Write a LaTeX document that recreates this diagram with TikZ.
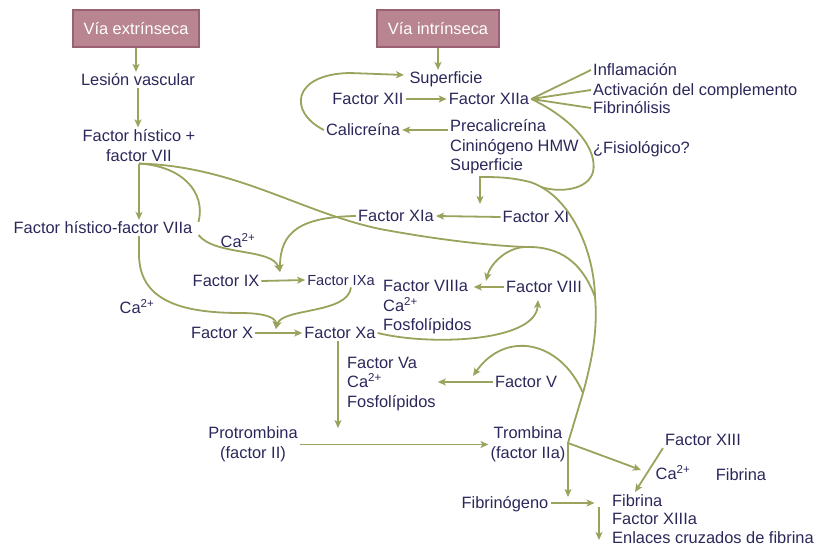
\documentclass[tikz,border=0pt]{standalone}
\usepackage{fontspec}
\setmainfont{Liberation Sans}
\usetikzlibrary{arrows.meta,calc}
\definecolor{txtc}{HTML}{2A275A}
\definecolor{arrc}{HTML}{9AA25C}
\definecolor{boxf}{HTML}{B88590}
\definecolor{boxd}{HTML}{9A6175}
\begin{document}
\begin{tikzpicture}[x=1pt,y=-1pt,
  lbl/.style={text=txtc,font=\fontsize{16.4}{19.5}\selectfont,inner sep=2pt},
  one/.style={lbl,text height=11.8pt,text depth=0pt},
  blk/.style={lbl,align=left,anchor=west},
  pbox/.style={fill=boxf,draw=boxd,line width=1.2pt,text=white,font=\fontsize{16.4}{19.5}\selectfont,minimum width=126pt,minimum height=37pt,inner sep=0pt},
  link/.style={draw=arrc,line width=1.8pt},
  arr/.style={link,-{Stealth[length=8pt,width=7pt,inset=2pt]}},
]
\useasboundingbox (0,0) rectangle (823,548);

% ---- nodes ----
\node[pbox] (ext) at (136,28.5) {Vía extrínseca};
\node[pbox,minimum width=122pt] (int) at (438,28.5) {Vía intrínseca};
\node[one] (les) at (138,80) {Lesión vascular};
\node[lbl,align=center] (fh) at (139,145.5) {Factor hístico +\\factor VII};
\node[one] (fhv) at (103,228) {Factor hístico-factor VIIa};
\node[one] (ca1) at (238,242) {Ca\textsuperscript{2+}};
\node[one] (ca2) at (137,308) {Ca\textsuperscript{2+}};
\node[one] (f9) at (226,281) {Factor IX};
\node[one,font=\fontsize{14.6}{17}\selectfont,text height=10.5pt] (f9a) at (341,280) {Factor IXa};
\node[one] (f10) at (222,333) {Factor X};
\node[one] (f10a) at (340,333) {Factor Xa};
\node[blk] (f8a) at (381,307.5) {Factor VIIIa\\Ca\textsuperscript{2+}\\Fosfolípidos};
\node[one] (f8) at (544,287) {Factor VIII};
\node[blk] (f5a) at (345,384) {Factor Va\\Ca\textsuperscript{2+}\\Fosfolípidos};
\node[one] (f5) at (526,382) {Factor V};
\node[lbl,align=center] (pro) at (253,444.5) {Protrombina\\(factor II)};
\node[lbl,align=center] (tro) at (528,444.5) {Trombina\\(factor IIa)};
\node[one] (f13) at (703,440) {Factor XIII};
\node[one] (ca3) at (673,474) {Ca\textsuperscript{2+}};
\node[one] (fib1) at (741,475) {Fibrina};
\node[one] (fibg) at (505,503) {Fibrinógeno};
\node[blk,font=\fontsize{16.4}{18.5}\selectfont,inner sep=1pt] (fibb) at (611,519) {Fibrina\\Factor XIIIa\\Enlaces cruzados de fibrina};
\node[one] (sup1) at (446,78) {Superficie};
\node[one] (f12) at (368,99) {Factor XII};
\node[one] (f12a) at (489,99) {Factor XIIa};
\node[one] (cal) at (363,130) {Calicreína};
\node[blk] (prec) at (448,147) {Precalicreína\\Cininógeno HMW\\Superficie};
\node[one,anchor=west] (infl) at (591,70) {Inflamación};
\node[one,anchor=west] (act) at (591,90) {Activación del complemento};
\node[one,anchor=west] (fibl) at (591,108) {Fibrinólisis};
\node[one,anchor=west] (fis) at (591,148) {¿Fisiológico?};
\node[one] (f11a) at (396,216) {Factor XIa};
\node[one] (f11) at (536,217) {Factor XI};

% ---- junctions and free ends ----
\coordinate (j9) at (280,272);
\coordinate (j10) at (276,329);
\coordinate (tj) at (568,443);
\coordinate (jV) at (583,393);
\coordinate (jVIII) at (595,297);
\coordinate (jXI) at (480,177);
\coordinate (jm) at (525,247);
\coordinate (t8) at (486,281);
\coordinate (t5) at (473,376);
\coordinate (tsup) at (404,75);
\coordinate (tfib) at (568,497);
\coordinate (tca) at (641,470);
\coordinate (t13) at (635,492);
\coordinate (fa) at (599,507);
\coordinate (fb) at (599,540);
\coordinate (j12) at (541,187);

% ---- connectors: extrinsic ----
\draw[arr] (ext.south) -- (ext.south |- les.north);
\draw[arr] (les.south) -- (les.south |- fh.north);
\draw[arr] (fh.south) -- (fh.south |- fhv.north);
\draw[link] (fh.south) .. controls (182,166) and (206,192) .. ($(fhv.east)+(4,-6)$);
\draw[link] (fh.south) .. controls (235,166) and (300,212) .. (380,229)
            .. controls (450,242) and (500,246) .. (jm);
\draw[arr] ($(fhv.east)+(4,7)$) .. controls (215,256) and (272,248) .. (j9);
\draw[arr] (f11a.west) .. controls (300,217) and (280,232) .. (j9);
\draw[arr] (f9.east) -- (f9a.west);
\draw[arr] (fhv.south -| fh.south) -- ++(0,18) .. controls (139,300) and (180,313) .. (240,313)
            .. controls (266,313) and (276,318) .. (j10);
\draw[arr] ($(f9a.south)+(10,0)$) .. controls (348,314) and (282,308) .. (j10);
\draw[arr] (f10.east) -- (f10a.west);
\draw[arr] (f10a.east) .. controls (430,346) and (536,342) .. ($(f8.south)+(-6,5)$);
\draw[arr] (f8.west) -- (f8.west -| f8a.east);
\draw[arr] ($(f10a.south)+(-2,0)$) -- ++(0,87);
\draw[arr] (f5.west) -- (f5.west -| f5a.east);
\draw[arr] (pro.east) -- (pro.east -| tro.west);

% ---- thrombin feedback ----
\draw[arr] (tj) -- (jV) .. controls (592,360) and (598,330) .. (jVIII)
           .. controls (594,250) and (570,195) .. (530,182)
           .. controls (510,177) and (495,177) .. (jXI) -- ($(jXI)+(0,27)$);
\draw[arr] (jVIII) .. controls (582,262) and (560,246) .. (jm)
           .. controls (505,248) and (490,265) .. (t8);
\draw[arr] (jV) .. controls (560,340) and (505,330) .. (t5);

% ---- intrinsic ----
\draw[arr] (int.south) -- (int.south |- sup1.north);
\draw[arr] (f12.east) -- (f12a.west);
\draw[arr] (cal.east -| prec.west) -- (cal.east);
\draw[arr] (cal.west) .. controls (288,112) and (292,74) .. (350,73) -- (tsup);
\draw[link] (f12a.east) -- (infl.west);
\draw[link] (f12a.east) -- (act.west);
\draw[link] (f12a.east) -- (fibl.west);
\draw[link] (f12a.east) .. controls (575,120) and (598,150) .. (593,172)
            .. controls (588,190) and (560,193) .. (j12);
\draw[arr] (f11.west) -- (f11a.east);

% ---- fibrin ----
\draw[arr] (tj) -- (tfib);
\draw[arr] (tj) -- (tca);
\draw[arr] (f13.south west) -- (t13);
\draw[arr] (fibg.east) -- ++(44,0);
\draw[arr] (fa) -- (fb);
\end{tikzpicture}
\end{document}
